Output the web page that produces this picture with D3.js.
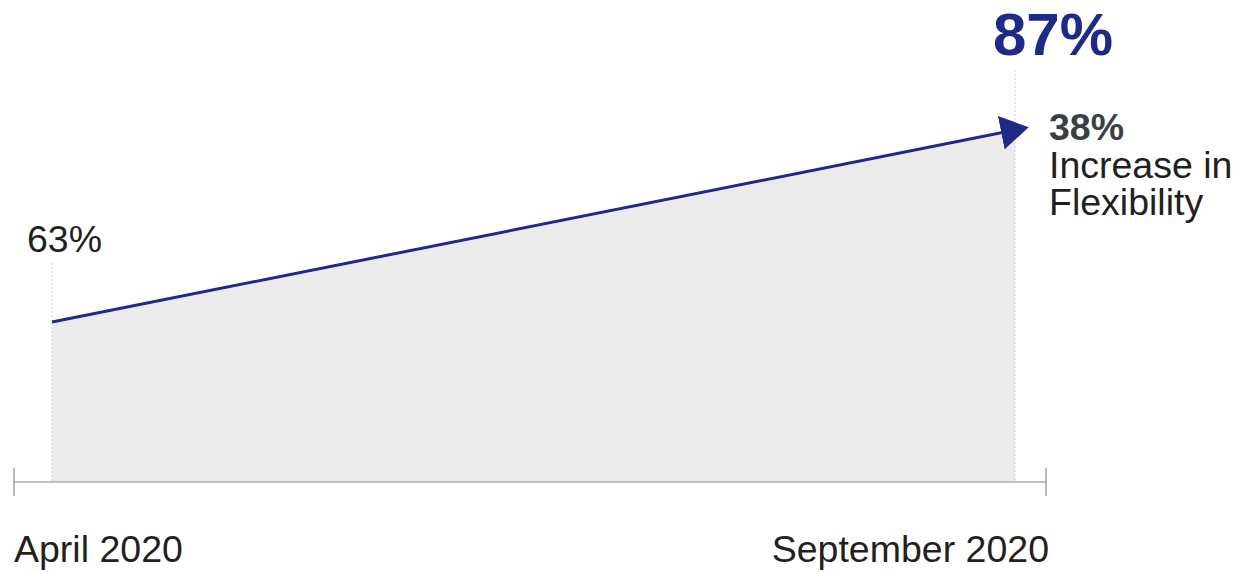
<!DOCTYPE html>
<html>
<head>
<meta charset="utf-8">
<script src="https://cdn.jsdelivr.net/npm/d3@7"></script>
<style>
  body { margin: 0; background: #fff; }
  text { font-family: "Liberation Sans", Arial, sans-serif; }
</style>
</head>
<body>
<div id="chart"></div>
<script>
// Data
var months = ["April 2020", "September 2020"];
var flexibility = [63, 87];
var increaseLabel = ["38%", "Increase in", "Flexibility"];

var svgWidth = 1245;
var svgHeight = 573;

var svg = d3.select("#chart")
  .append("svg")
  .attr("width", svgWidth)
  .attr("height", svgHeight);

var navy = "#1f2a88";
var ink = "#231f20";

// Scales
var x = d3.scalePoint()
  .domain(months)
  .range([52, 1015]);

var y = d3.scaleLinear()
  .domain([43, 87])
  .range([482, 130]);

var data = months.map(function(m, i) {
  return { month: m, value: flexibility[i] };
});

// Area
var area = d3.area()
  .x(d => x(d.month))
  .y0(y(43))
  .y1(d => y(d.value));

svg.append("path")
  .datum(data)
  .attr("d", area)
  .attr("fill", "#ebebeb");

// Dotted guides
svg.selectAll(".guide")
  .data(data)
  .enter()
  .append("line")
  .attr("class", "guide")
  .attr("x1", d => x(d.month))
  .attr("x2", d => x(d.month))
  .attr("y1", (d, i) => i === 0 ? 263 : 70)
  .attr("y2", y(43))
  .attr("stroke", "#d0d0d0")
  .attr("stroke-width", 1)
  .attr("stroke-dasharray", "2,2");

// Axis baseline with end ticks
var axisG = svg.append("g")
  .attr("transform", `translate(0, ${y(43)})`);

axisG.append("line")
  .attr("x1", x(months[0]) - 38)
  .attr("x2", x(months[1]) + 31)
  .attr("stroke", "#8a8a8a")
  .attr("stroke-width", 1.2);

axisG.selectAll(".endtick")
  .data([x(months[0]) - 38, x(months[1]) + 31])
  .enter()
  .append("line")
  .attr("x1", d => d)
  .attr("x2", d => d)
  .attr("y1", -14)
  .attr("y2", 14)
  .attr("stroke", "#8a8a8a")
  .attr("stroke-width", 1.2);

axisG.append("text")
  .attr("x", x(months[0]) - 38)
  .attr("y", 80)
  .attr("font-size", 37.5)
  .attr("fill", ink)
  .text(months[0]);

axisG.append("text")
  .attr("x", x(months[1]) + 34)
  .attr("y", 80)
  .attr("text-anchor", "end")
  .attr("font-size", 37.5)
  .attr("fill", ink)
  .text(months[1]);

// Arrow marker
svg.append("defs").append("marker")
  .attr("id", "arrow")
  .attr("markerUnits", "userSpaceOnUse")
  .attr("viewBox", "0 0 28 34")
  .attr("refX", 14)
  .attr("refY", 17)
  .attr("markerWidth", 28)
  .attr("markerHeight", 34)
  .attr("orient", "auto")
  .append("path")
  .attr("d", "M0,0 L28,17 L0,34 Z")
  .attr("fill", navy);

var line = d3.line()
  .x(d => x(d.month))
  .y(d => y(d.value));

svg.append("path")
  .datum(data)
  .attr("d", line)
  .attr("fill", "none")
  .attr("stroke", navy)
  .attr("stroke-width", 3)
  .attr("marker-end", "url(#arrow)");

// Value labels
svg.append("text")
  .attr("x", x(months[0]) - 25)
  .attr("y", 252)
  .attr("font-size", 37.5)
  .attr("fill", ink)
  .text(flexibility[0] + "%");

svg.append("text")
  .attr("x", x(months[1]) - 22)
  .attr("y", 55)
  .attr("font-size", 60)
  .attr("font-weight", "bold")
  .attr("fill", navy)
  .text(flexibility[1] + "%");

// Increase annotation
var note = svg.append("text")
  .attr("x", x(months[1]) + 34)
  .attr("y", 140)
  .attr("font-size", 37.5)
  .attr("fill", ink);

note.selectAll("tspan")
  .data(increaseLabel)
  .enter()
  .append("tspan")
  .attr("x", x(months[1]) + 34)
  .attr("dy", (d, i) => i === 0 ? 0 : 37.5)
  .attr("font-weight", (d, i) => i === 0 ? "bold" : "normal")
  .attr("fill", (d, i) => i === 0 ? "#3a3f45" : ink)
  .text(d => d);
</script>
</body>
</html>
